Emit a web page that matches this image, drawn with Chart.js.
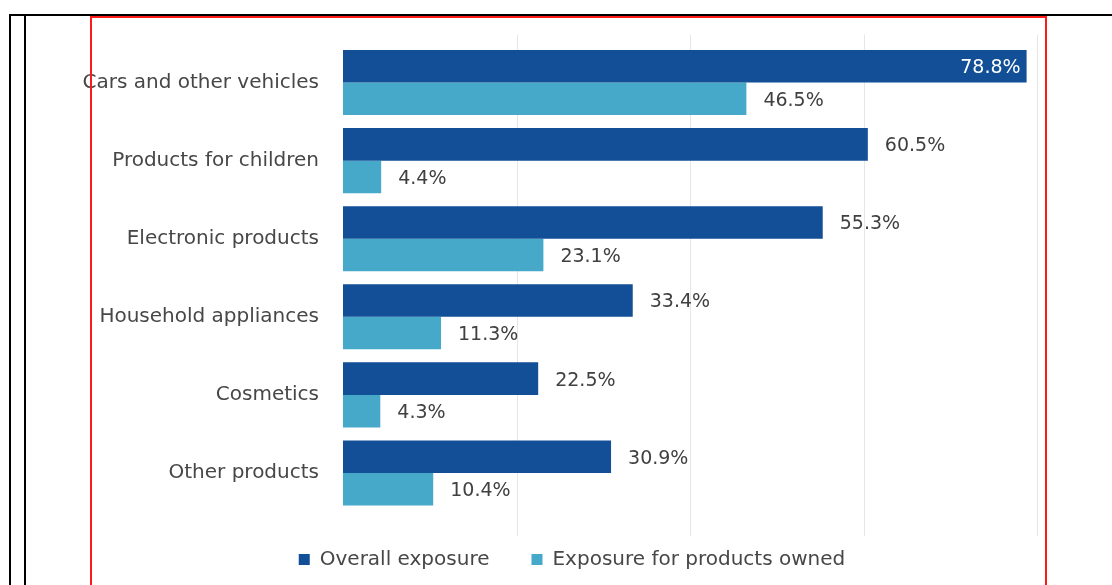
<!DOCTYPE html>
<html>
<head>
<meta charset="utf-8">
<script src="https://cdn.jsdelivr.net/npm/chart.js@4.4.1/dist/chart.umd.min.js"></script>
<style>
  html, body { margin: 0; padding: 0; background: #ffffff; }
  body { width: 1112px; height: 585px; position: relative; overflow: hidden; }
  .rule { position: absolute; background: #000; z-index: 2; }
  #frame { position: absolute; left: 90px; top: 16px; width: 953px; height: 600px; z-index: 2;
           border: 2px solid #ff1a1a; border-bottom: none; box-sizing: content-box; }
  #wrap { position: absolute; left: 60px; top: 18px; width: 985px; height: 567px; z-index: 1; }
</style>
</head>
<body>
<div class="rule" style="left:9px;top:14px;width:1103px;height:2px;"></div>
<div class="rule" style="left:9px;top:14px;width:2px;height:571px;"></div>
<div class="rule" style="left:24px;top:14px;width:2px;height:571px;"></div>
<div id="frame"></div>
<div id="wrap"><canvas id="chart" width="985" height="567"></canvas></div>
<script>
// Product categories (top to bottom)
const categories = [
  'Cars and other vehicles',
  'Products for children',
  'Electronic products',
  'Household appliances',
  'Cosmetics',
  'Other products'
];
// Share of respondents (%)
const overallExposure = [78.8, 60.5, 55.3, 33.4, 22.5, 30.9];
const ownedExposure   = [46.5, 4.4, 23.1, 11.3, 4.3, 10.4];
const seriesNames = ['Overall exposure', 'Exposure for products owned'];
const xTicks = [0, 20, 40, 60, 80];

const FONT = '"DejaVu Sans", sans-serif';

// Faint vertical gridlines, running a little past the bar area
const softGrid = {
  id: 'softGrid',
  beforeDatasetsDraw(chart) {
    const ctx = chart.ctx;
    const area = chart.chartArea;
    const x = chart.scales.x;
    ctx.save();
    ctx.strokeStyle = '#e6e6e6';
    ctx.lineWidth = 1;
    xTicks.forEach(v => {
      if (v === 0) return;
      const px = Math.round(x.getPixelForValue(v)) + 0.5;
      ctx.beginPath();
      ctx.moveTo(px, area.top - 9);
      ctx.lineTo(px, area.bottom + 24);
      ctx.stroke();
    });
    ctx.restore();
  }
};

// Percent labels at the end of each bar; drawn inside when there is no room outside
const barValueLabels = {
  id: 'barValueLabels',
  afterDatasetsDraw(chart) {
    const ctx = chart.ctx;
    const area = chart.chartArea;
    ctx.save();
    ctx.font = '19px ' + FONT;
    ctx.textBaseline = 'middle';
    chart.data.datasets.forEach((ds, di) => {
      const meta = chart.getDatasetMeta(di);
      meta.data.forEach((bar, i) => {
        const text = ds.data[i].toFixed(1) + '%';
        const w = ctx.measureText(text).width;
        const y = bar.y + 2;
        if (bar.x + 17 + w > area.right) {
          ctx.fillStyle = '#ffffff';
          ctx.textAlign = 'right';
          ctx.fillText(text, bar.x - 6, y);
        } else {
          ctx.fillStyle = '#404040';
          ctx.textAlign = 'left';
          ctx.fillText(text, bar.x + 17, y);
        }
      });
    });
    ctx.restore();
  }
};

new Chart(document.getElementById('chart'), {
  type: 'bar',
  data: {
    labels: categories,
    datasets: [
      { label: seriesNames[0], data: overallExposure, backgroundColor: '#124f97' },
      { label: seriesNames[1], data: ownedExposure, backgroundColor: '#46a9c9' }
    ]
  },
  options: {
    indexAxis: 'y',
    responsive: false,
    animation: false,
    datasets: { bar: { categoryPercentage: 0.834, barPercentage: 1.0 } },
    layout: { padding: { top: 25.5, right: 8, left: 47, bottom: 1 } },
    scales: {
      x: {
        min: 0, max: 80,
        afterBuildTicks: s => { s.ticks = xTicks.map(v => ({ value: v })); },
        // let the legend sit slightly into the space under the bars
        afterFit: s => { s.height = -4.5; s.paddingLeft = 0; s.paddingRight = 0; },
        ticks: { display: false },
        border: { display: false },
        grid: { display: false, drawTicks: false }
      },
      y: {
        afterFit: s => {
          s.width = 236; s.paddingTop = 0; s.paddingBottom = 0;
          // long category names may run past the axis box to the left
          s._computeLabelArea = () => undefined;
        },
        border: { display: false },
        grid: { display: false, drawTicks: false },
        ticks: { padding: 24, color: '#474747', font: { family: FONT, size: 20 } }
      }
    },
    plugins: {
      legend: {
        position: 'bottom',
        labels: {
          boxWidth: 11, boxHeight: 11, padding: 42,
          color: '#474747',
          font: { family: FONT, size: 20 }
        }
      },
      tooltip: { enabled: false }
    }
  },
  plugins: [softGrid, barValueLabels]
});
</script>
</body>
</html>
